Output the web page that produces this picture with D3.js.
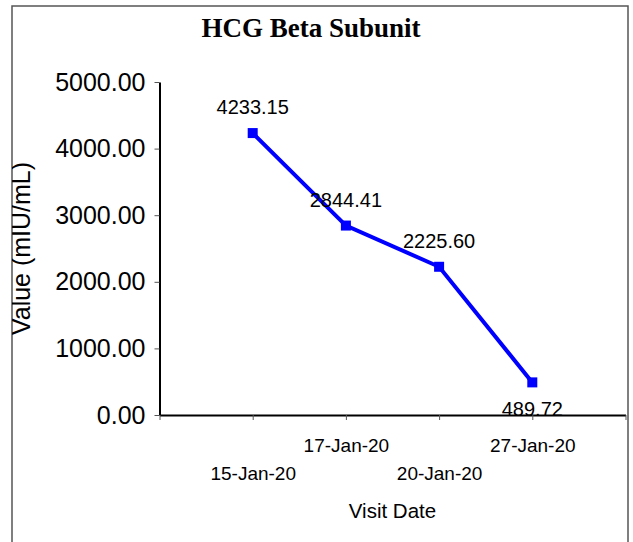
<!DOCTYPE html>
<html>
<head>
<meta charset="utf-8">
<script src="https://cdn.jsdelivr.net/npm/d3@7"></script>
<style>
  body { margin: 0; background: #fff; }
  text { font-family: "Liberation Sans", Arial, sans-serif; fill: #000; }
</style>
</head>
<body>
<div id="plot"></div>
<script>
// chart data
const visitDates = ["15-Jan-20", "17-Jan-20", "20-Jan-20", "27-Jan-20"];
const hcgValues = [4233.15, 2844.41, 2225.60, 489.72];
const yTickValues = [0, 1000, 2000, 3000, 4000, 5000];
const labelSide = ["above", "above", "above", "below"];   // where the value label sits
const dateRow = [1, 0, 1, 0];                              // staggered date labels

const width = 633, height = 542;
const plot = {left: 159.5, right: 625.5, top: 82, bottom: 415};

var svg = d3.select("#plot")
	.append("svg")
	.attr("width", width)
	.attr("height", height);

// frame round the chart
svg.append("clipPath")
	.attr("id", "frameClip")
	.append("rect")
	.attr("x", 12).attr("y", 6)
	.attr("width", 616).attr("height", 560);

svg.append("rect")
	.attr("x", 12).attr("y", 6)
	.attr("width", 616).attr("height", 560)
	.attr("fill", "none")
	.attr("stroke", "#555")
	.attr("stroke-width", 1.5);

// title
svg.append("text")
	.attr("x", 311)
	.attr("y", 37)
	.attr("text-anchor", "middle")
	.style("font-family", "'Liberation Serif', 'Times New Roman', serif")
	.style("font-weight", "bold")
	.style("font-size", "27px")
	.text("HCG Beta Subunit");

// scales
var x = d3.scaleLinear()
	.domain([0, visitDates.length + 1])
	.range([plot.left, plot.right]);

var y = d3.scaleLinear()
	.domain([0, 5000])
	.range([plot.bottom, plot.top]);

// Y axis
var yAxis = svg.append("g")
	.attr("transform", "translate(" + plot.left + ",0)")
	.call(d3.axisLeft(y)
		.tickValues(yTickValues)
		.tickFormat(d3.format(".2f"))
		.tickSize(5)
		.tickSizeOuter(0)
		.tickPadding(9));

yAxis.selectAll("text").style("font-size", "25px");
yAxis.select(".domain").attr("stroke", "#000").attr("stroke-width", 2);
yAxis.selectAll(".tick line").attr("stroke", "#555");

// X axis
var xAxis = svg.append("g")
	.attr("transform", "translate(0," + plot.bottom + ")")
	.call(d3.axisBottom(x)
		.tickValues(d3.range(visitDates.length + 2))
		.tickFormat(function (d) { return visitDates[d - 1] || ""; })
		.tickSize(5)
		.tickSizeOuter(0));

xAxis.select(".domain").attr("stroke", "#000").attr("stroke-width", 2);
xAxis.selectAll(".tick line").attr("stroke", "#555");
xAxis.selectAll(".tick text")
	.style("font-size", "19px")
	.attr("dy", 0)
	.attr("y", function (d) { return dateRow[d - 1] ? 65 : 37; });

// axis titles
svg.append("text")
	.attr("x", (plot.left + plot.right) / 2)
	.attr("y", 518)
	.attr("text-anchor", "middle")
	.style("font-size", "20.5px")
	.text("Visit Date");

svg.append("g")
	.attr("clip-path", "url(#frameClip)")
	.append("text")
	.attr("transform", "translate(30," + (plot.top + plot.bottom) / 2 + ") rotate(-90)")
	.attr("text-anchor", "middle")
	.style("font-size", "25px")
	.text("Value (mIU/mL)");

// line and markers
var points = visitDates.map(function (d, i) { return [i + 1, hcgValues[i]]; });

svg.append("path")
	.datum(points)
	.attr("fill", "none")
	.attr("stroke", "#0000ff")
	.attr("stroke-width", 4)
	.attr("d", d3.line()
		.x(function (d) { return x(d[0]); })
		.y(function (d) { return y(d[1]); }));

svg.append("g")
	.selectAll("rect")
	.data(points)
	.enter()
	.append("rect")
		.attr("x", function (d) { return x(d[0]) - 5; })
		.attr("y", function (d) { return y(d[1]) - 5; })
		.attr("width", 10)
		.attr("height", 10)
		.attr("fill", "#0000ff");

// value labels
svg.append("g")
	.selectAll("text")
	.data(points)
	.enter()
	.append("text")
		.attr("x", function (d) { return x(d[0]); })
		.attr("y", function (d, i) { return y(d[1]) + (labelSide[i] === "below" ? 34 : -19); })
		.attr("text-anchor", "middle")
		.style("font-size", "20px")
		.text(function (d) { return d[1].toFixed(2); });
</script>
</body>
</html>
